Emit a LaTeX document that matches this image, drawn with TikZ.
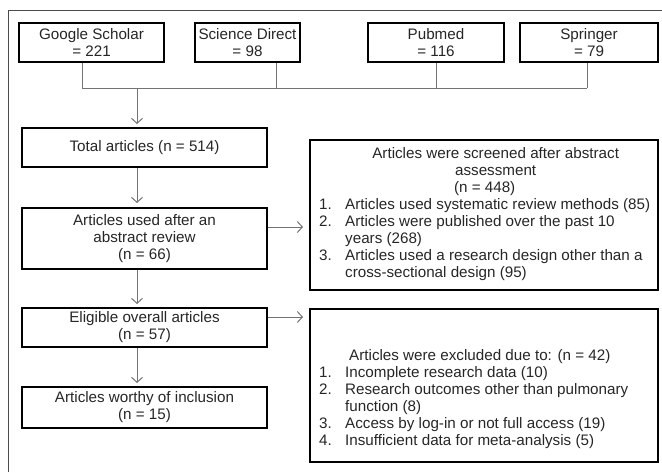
\documentclass[tikz,border=0pt]{standalone}
\usepackage{fontspec}
\setmainfont{Liberation Sans}
\usetikzlibrary{arrows.meta}
\begin{document}
\begin{tikzpicture}[x=1pt,y=-1pt,
  box/.style={draw=black,line width=2pt,inner sep=0pt,align=center,
    font=\fontsize{15.2}{17}\selectfont,text=black!85},
  txt/.style={inner sep=0pt,font=\fontsize{15.2}{17}\selectfont,text=black!85},
  conn/.style={draw=black!55,line width=1pt},
  arr/.style={conn,-{Straight Barb[length=5pt,width=11pt]}},
]
\useasboundingbox (0,0) rectangle (662,472);
\draw[black!70,line width=1pt] (8,472) -- (8,10) -- (662,10);

% sources
\node[box,minimum width=145pt,minimum height=39pt] (g1) at (91.5,42.5) {Google Scholar\\= 221};
\node[box,minimum width=105pt,minimum height=39pt] (g2) at (247.5,42.5) {Science Direct\\= 98};
\node[box,minimum width=136pt,minimum height=39pt] (g3) at (436,42.5) {Pubmed\\= 116};
\node[box,minimum width=138pt,minimum height=39pt] (g4) at (589,42.5) {Springer\\= 79};

\coordinate (v1) at (82,88);
\coordinate (v2) at (276,88);
\coordinate (v3) at (436,88);
\coordinate (v4) at (587,88);
\coordinate (ax) at (137,88);

% left column
\node[box,minimum width=245pt,minimum height=39pt] (t) at (144.5,147.5) {Total articles (n = 514)};
\node[box,minimum width=245pt,minimum height=61pt] (a) at (144.5,238.5) {Articles used after an\\abstract review\\(n = 66)};
\node[box,minimum width=245pt,minimum height=39pt] (e) at (144.5,327.5) {Eligible overall articles\\(n = 57)};
\node[box,minimum width=245pt,minimum height=41pt] (w) at (144.5,407.5) {Articles worthy of inclusion\\(n = 15)};

% right boxes
\node[box,minimum width=348pt,minimum height=150pt] (r1) at (484,215) {};
\node[box,minimum width=348pt,minimum height=153pt] (r2) at (484,385.5) {};

\node[txt,anchor=west] (r1t) at (319,215) {\begin{tabular}{@{}p{26pt}@{}l@{}}
\multicolumn{2}{@{\hspace{22pt}}c@{}}{Articles were screened after abstract}\\
\multicolumn{2}{@{\hspace{22pt}}c@{}}{assessment}\\
\multicolumn{2}{@{}c@{}}{(n = 448)}\\
1. & Articles used systematic review methods (85)\\
2. & Articles were published over the past 10\\
 & years (268)\\
3. & Articles used a research design other than a\\
 & cross-sectional design (95)
\end{tabular}};

\node[txt,anchor=west] (r2t) at (319,399.5) {\begin{tabular}{@{}p{26pt}@{}l@{}}
\multicolumn{2}{@{}l@{}}{\hspace{30pt}Articles were excluded due to: (n = 42)}\\
1. & Incomplete research data (10)\\
2. & Research outcomes other than pulmonary\\
 & function (8)\\
3. & Access by log-in or not full access (19)\\
4. & Insufficient data for meta-analysis (5)
\end{tabular}};

% connectors
\draw[conn] (g1.south -| v1) -- (v1);
\draw[conn] (g2.south -| v2) -- (v2);
\draw[conn] (g3.south -| v3) -- (v3);
\draw[conn] (g4.south -| v4) -- (v4);
\draw[conn] (v1) -- (v4);
\draw[arr,shorten >=3pt] (ax) -- (t.north -| ax);
\draw[arr,shorten >=4pt] (t.south -| ax) -- (a.north -| ax);
\draw[arr,shorten >=3pt] (a.south -| ax) -- (e.north -| ax);
\draw[arr,shorten >=3pt] (e.south -| ax) -- (w.north -| ax);

\coordinate (h1) at (0,227);
\coordinate (h2) at (0,317);
\draw[arr,shorten >=6pt] (a.east |- h1) -- (r1.west |- h1);
\draw[arr,shorten >=6pt] (e.east |- h2) -- (r2.west |- h2);
\end{tikzpicture}
\end{document}
